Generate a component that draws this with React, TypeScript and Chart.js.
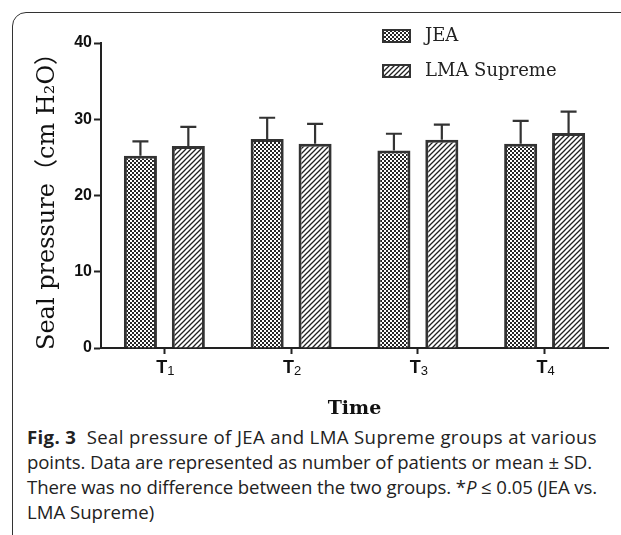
import React, { useEffect, useLayoutEffect, useRef } from "react";
import { Chart, registerables } from "chart.js";
Chart.register(...registerables);

const categories = ["T1", "T2", "T3", "T4"];
const seriesNames = ["JEA", "LMA Supreme"];
const jeaMeans = [25.2, 27.4, 25.9, 26.8];
const jeaSD = [1.9, 2.8, 2.2, 3.0];
const lmaMeans = [26.5, 26.8, 27.3, 28.2];
const lmaSD = [2.5, 2.6, 2.0, 2.8];
const yMin = 0;
const yMax = 40;
const yStep = 10;
const xTitle = "Time";
const yTitle = "Seal pressure（cm H₂O）";

const serifFam = "'DejaVu Serif', 'Noto Sans CJK SC', serif";

function checkerPattern(ctx: CanvasRenderingContext2D) {
  const c = document.createElement("canvas");
  c.width = 4;
  c.height = 4;
  const g = c.getContext("2d")!;
  g.fillStyle = "#ffffff";
  g.fillRect(0, 0, 4, 4);
  g.fillStyle = "#262626";
  g.fillRect(0, 0, 2, 2);
  g.fillRect(2, 2, 2, 2);
  return ctx.createPattern(c, "repeat")!;
}

function hatchPattern(ctx: CanvasRenderingContext2D) {
  const s = 5;
  const c = document.createElement("canvas");
  c.width = s;
  c.height = s;
  const g = c.getContext("2d")!;
  g.fillStyle = "#ffffff";
  g.fillRect(0, 0, s, s);
  g.strokeStyle = "#222";
  g.lineWidth = 1.3;
  g.beginPath();
  g.moveTo(-1, s + 1);
  g.lineTo(s + 1, -1);
  g.moveTo(-1, 1);
  g.lineTo(1, -1);
  g.moveTo(s - 1, s + 1);
  g.lineTo(s + 1, s - 1);
  g.stroke();
  return ctx.createPattern(c, "repeat")!;
}

const sdLists = [jeaSD, lmaSD];

const errorBarPlugin = {
  id: "errorBars",
  afterDatasetsDraw(chart: any) {
    const ctx = chart.ctx as CanvasRenderingContext2D;
    const y = chart.scales.y;
    chart.data.datasets.forEach((ds: any, i: number) => {
      const meta = chart.getDatasetMeta(i);
      meta.data.forEach((bar: any, j: number) => {
        const mean = ds.data[j] as number;
        const top = y.getPixelForValue(mean + sdLists[i][j]);
        const base = y.getPixelForValue(mean);
        ctx.save();
        ctx.strokeStyle = "#333";
        ctx.lineWidth = 2.2;
        ctx.beginPath();
        ctx.moveTo(bar.x, base);
        ctx.lineTo(bar.x, top);
        ctx.moveTo(bar.x - 8, top);
        ctx.lineTo(bar.x + 8, top);
        ctx.stroke();
        ctx.restore();
      });
    });
  },
};

const legendPlugin = {
  id: "customLegend",
  afterDraw(chart: any) {
    const ctx = chart.ctx as CanvasRenderingContext2D;
    const x0 = 382;
    const rows = [29, 64];
    chart.data.datasets.forEach((ds: any, i: number) => {
      const y0 = rows[i];
      ctx.save();
      ctx.fillStyle = ds.backgroundColor;
      ctx.fillRect(x0, y0, 29, 14);
      ctx.strokeStyle = "#333";
      ctx.lineWidth = 2;
      ctx.strokeRect(x0 + 1, y0 + 1, 27, 12);
      ctx.fillStyle = "#222";
      ctx.font = "18px " + serifFam;
      ctx.textBaseline = "middle";
      ctx.textAlign = "left";
      ctx.fillText(ds.label, 425, y0 + 7.5);
      ctx.restore();
    });
  },
};

const xLabelPlugin = {
  id: "xSubLabels",
  afterDraw(chart: any) {
    const ctx = chart.ctx as CanvasRenderingContext2D;
    const xs = chart.scales.x;
    const labels = chart.data.labels as string[];
    labels.forEach((lab, i) => {
      const x = xs.getPixelForValue(i);
      const main = lab.slice(0, 1);
      const sub = lab.slice(1);
      ctx.save();
      ctx.fillStyle = "#111";
      ctx.textBaseline = "alphabetic";
      ctx.textAlign = "left";
      const mainFont = "bold 18px 'Liberation Sans', Arial, sans-serif";
      const subFont = "13px 'Liberation Sans', Arial, sans-serif";
      ctx.font = mainFont;
      const w1 = ctx.measureText(main).width;
      ctx.font = subFont;
      const w2 = ctx.measureText(sub).width;
      const start = x - (w1 + w2) / 2 + 1;
      ctx.font = mainFont;
      ctx.fillText(main, start, 373);
      ctx.font = subFont;
      ctx.fillText(sub, start + w1, 374.5);
      ctx.restore();
    });
  },
};

function ChartCanvas() {
  const ref = useRef<HTMLCanvasElement | null>(null);
  useEffect(() => {
    const canvas = ref.current!;
    const ctx = canvas.getContext("2d")!;
    const chart = new Chart(ctx, {
      type: "bar",
      data: {
        labels: categories,
        datasets: [
          {
            label: seriesNames[0],
            data: jeaMeans,
            backgroundColor: checkerPattern(ctx) as any,
            borderColor: "#333",
            borderWidth: 3,
            categoryPercentage: 0.756,
            barPercentage: 0.69,
          },
          {
            label: seriesNames[1],
            data: lmaMeans,
            backgroundColor: hatchPattern(ctx) as any,
            borderColor: "#333",
            borderWidth: 3,
            categoryPercentage: 0.756,
            barPercentage: 0.69,
          },
        ],
      },
      options: {
        responsive: false,
        animation: false,
        devicePixelRatio: 1,
        layout: { padding: { left: 33, top: 43, right: 13, bottom: 0 } },
        plugins: {
          legend: { display: false },
          tooltip: { enabled: false },
        },
        scales: {
          x: {
            type: "category",
            offset: true,
            grid: {
              display: true,
              drawOnChartArea: false,
              drawTicks: true,
              offset: false,
              tickLength: 6,
              tickWidth: 2,
              tickColor: "#222",
              color: "#222",
            },
            border: { display: true, color: "#222", width: 2 },
            ticks: { display: false },
            title: {
              display: true,
              text: xTitle,
              color: "#111",
              font: { family: serifFam, size: 19, weight: "bold" },
              padding: 0,
            },
            afterFit: (s: any) => {
              s.height = 72;
            },
          } as any,
          y: {
            min: yMin,
            max: yMax,
            ticks: {
              stepSize: yStep,
              color: "#111",
              font: { family: "'Liberation Sans', Arial, sans-serif", size: 16, weight: "bold" },
              padding: 2,
            },
            grid: {
              display: true,
              drawOnChartArea: false,
              tickLength: 7,
              tickWidth: 2,
              tickColor: "#222",
              color: "#222",
            },
            border: { display: true, color: "#222", width: 2 },
            title: {
              display: true,
              text: yTitle,
              color: "#111",
              font: { family: serifFam, size: 24, weight: "normal" },
              padding: 0,
            },
            afterFit: (s: any) => {
              s.width = 101 - 33;
            },
          } as any,
        },
      },
      plugins: [errorBarPlugin, legendPlugin, xLabelPlugin],
    });
    return () => chart.destroy();
  }, []);
  return (
    <canvas
      ref={ref}
      width={621}
      height={420}
      style={{ position: "absolute", left: 0, top: 0, width: 621, height: 420 }}
    />
  );
}

// target right edge (page px) of each caption line, null = natural width
const captionRight: (number | null)[] = [597, 592, 597, null];

function Caption() {
  const lineRefs = useRef<(HTMLDivElement | null)[]>([]);
  useLayoutEffect(() => {
    lineRefs.current.forEach((el, i) => {
      const target = captionRight[i];
      if (!el || target == null) return;
      el.style.letterSpacing = "0px";
      const span = el.firstElementChild as HTMLElement;
      const r = span.getBoundingClientRect();
      const n = (span.textContent || "").length;
      const extra = target - r.right;
      if (n > 1) el.style.letterSpacing = extra / n + "px";
    });
  }, []);
  const setRef = (i: number) => (el: HTMLDivElement | null) => {
    lineRefs.current[i] = el;
  };
  return (
    <div
      style={{
        position: "absolute",
        left: 27,
        top: 424,
        fontFamily: "'Open Sans', sans-serif",
        fontSize: 18.6,
        lineHeight: "25px",
        color: "#222",
        whiteSpace: "nowrap",
      }}
    >
      <div ref={setRef(0)}>
        <span>
          <b>Fig. 3</b>&nbsp;&nbsp;Seal pressure of JEA and LMA Supreme groups at various
        </span>
      </div>
      <div ref={setRef(1)}>
        <span>points. Data are represented as number of patients or mean ± SD.</span>
      </div>
      <div ref={setRef(2)}>
        <span>
          There was no difference between the two groups. *<i>P</i> ≤ 0.05 (JEA vs.
        </span>
      </div>
      <div ref={setRef(3)}>
        <span>LMA Supreme)</span>
      </div>
    </div>
  );
}

export default function App() {
  return (
    <div
      style={{
        position: "absolute",
        left: 0,
        top: 0,
        width: 621,
        height: 535,
        overflow: "hidden",
        background: "#fff",
      }}
    >
      <div
        style={{
          position: "absolute",
          left: 12,
          top: 12,
          width: 700,
          height: 700,
          border: "1.5px solid #333",
          borderTopLeftRadius: 14,
        }}
      />
      <ChartCanvas />
      <Caption />
    </div>
  );
}
